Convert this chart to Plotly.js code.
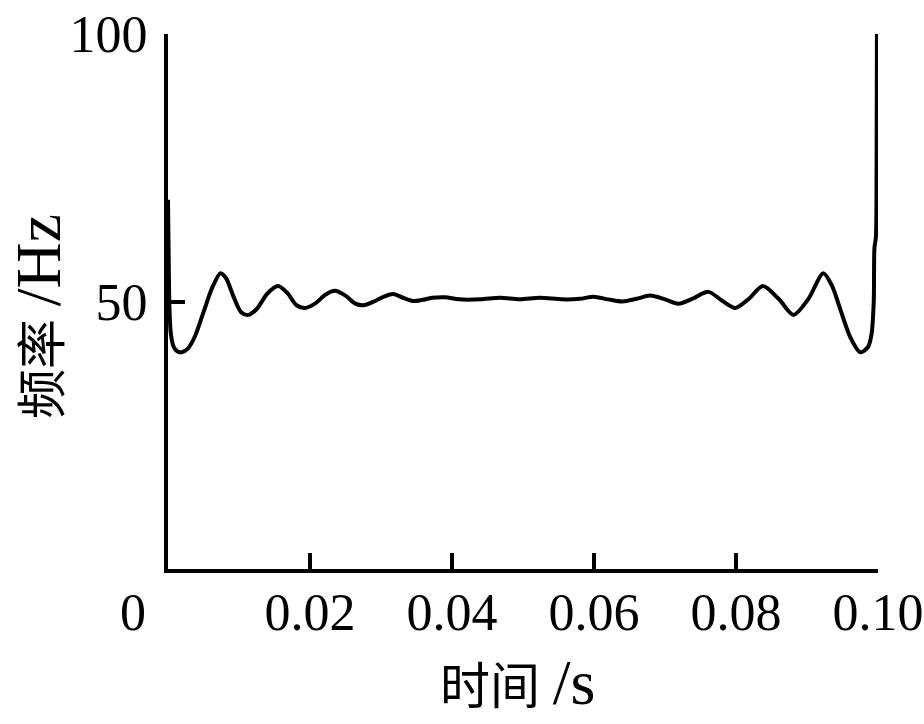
<!DOCTYPE html>
<html>
<head>
<meta charset="utf-8">
<script src="https://cdn.plot.ly/plotly-3.0.1.min.js"></script>
<style>html,body{margin:0;padding:0;background:#fff;}#chart{width:924px;height:724px;}</style>
</head>
<body>
<div id="chart"></div>
<script>
const timeS = [0, 0.0001, 0.0002, 0.0004, 0.0008, 0.0013, 0.0019, 0.0028, 0.0038, 0.005, 0.0062, 0.0074, 0.0082, 0.0092, 0.0103, 0.0113, 0.0125, 0.0140, 0.0155, 0.0168, 0.0181, 0.0193, 0.0207, 0.0222, 0.0235, 0.0250, 0.0264, 0.0275, 0.0290, 0.0304, 0.0317, 0.0331, 0.0345, 0.0358, 0.0372, 0.0390, 0.0410, 0.0440, 0.0468, 0.0495, 0.0524, 0.0555, 0.0580, 0.0599, 0.0620, 0.0640, 0.0660, 0.0679, 0.0700, 0.0719, 0.0740, 0.0761, 0.0780, 0.0799, 0.0818, 0.0838, 0.0860, 0.0881, 0.0902, 0.0923, 0.0935, 0.0946, 0.0961, 0.0975, 0.0986, 0.0991, 0.0994, 0.0995, 0.0997, 0.0998, 0.09985];
const freqHz = [69, 58, 49, 44, 41.5, 40.7, 40.5, 41.2, 43.5, 48, 52.5, 55.3, 54.3, 51, 48, 47.5, 48.6, 51.5, 52.9, 51.6, 49.3, 48.8, 49.6, 51.3, 52.0, 51.1, 49.6, 49.3, 50.0, 50.9, 51.4, 50.7, 50.1, 50.3, 50.7, 50.8, 50.4, 50.4, 50.7, 50.4, 50.7, 50.4, 50.5, 50.9, 50.4, 50.0, 50.5, 51.1, 50.4, 49.6, 50.6, 51.8, 50.2, 48.8, 50.5, 52.9, 50.5, 47.5, 50.5, 55.3, 53, 48.9, 43.3, 40.5, 41.5, 44, 50, 60, 62, 75, 100];
const xTickVals = [0.02, 0.04, 0.06, 0.08, 0.10];
const xTickText = ['0.02', '0.04', '0.06', '0.08', '0.10'];
const yTickVals = [50, 100];
const yTickText = ['50', '100'];
const xTitleCJK = '时间';
const xTitleUnit = '/s';
const yTitleCJK = '频率';
const yTitleUnit = '/Hz';
const originLabel = '0';

const FONT = "'Liberation Serif', 'Times New Roman', 'Noto Sans CJK SC', serif";

const trace = {
  x: timeS, y: freqHz, type: 'scatter', mode: 'lines',
  line: {color: '#000', width: 4, shape: 'spline', smoothing: 0.8},
  hoverinfo: 'skip'
};

const layout = {
  width: 924, height: 724,
  margin: {l: 168, r: 46, t: 34, b: 155},
  paper_bgcolor: '#fff', plot_bgcolor: '#fff',
  showlegend: false,
  font: {family: FONT, color: '#000', size: 52},
  xaxis: {
    range: [0, 0.1], showgrid: false, zeroline: false,
    showline: true, linecolor: '#000', linewidth: 4,
    ticks: 'inside', ticklen: 16, tickwidth: 4, tickcolor: '#000',
    tickvals: xTickVals, ticktext: xTickText,
    tickfont: {family: FONT, size: 52, color: '#000'},
    ticklabelstandoff: -5
  },
  yaxis: {
    range: [0, 100], showgrid: false, zeroline: false,
    showline: true, linecolor: '#000', linewidth: 4,
    ticks: 'inside', ticklen: 17, tickwidth: 4, tickcolor: '#000',
    tickvals: yTickVals, ticktext: yTickText,
    tickfont: {family: FONT, size: 52, color: '#000'},
    ticklabelstandoff: 6
  },
  annotations: [
    {
      text: originLabel, xref: 'paper', yref: 'paper',
      x: -0.049, y: -0.082, xanchor: 'center', yanchor: 'middle',
      showarrow: false, font: {family: FONT, size: 52, color: '#000'}
    },
    {
      text: xTitleCJK + '<span style="font-size:64px">\u2009' + xTitleUnit + '</span>',
      xref: 'paper', yref: 'paper',
      x: 0.493, y: -0.213, xanchor: 'center', yanchor: 'middle',
      showarrow: false, font: {family: FONT, size: 50, color: '#000'}
    },
    {
      text: yTitleCJK + '<span style="font-size:64px">\u2009' + yTitleUnit + '</span>',
      xref: 'paper', yref: 'paper', textangle: -90,
      x: -0.183, y: 0.471, xanchor: 'center', yanchor: 'middle',
      showarrow: false, font: {family: FONT, size: 50, color: '#000'}
    }
  ]
};

Plotly.newPlot('chart', [trace], layout, {displayModeBar: false, staticPlot: true});
</script>
</body>
</html>
